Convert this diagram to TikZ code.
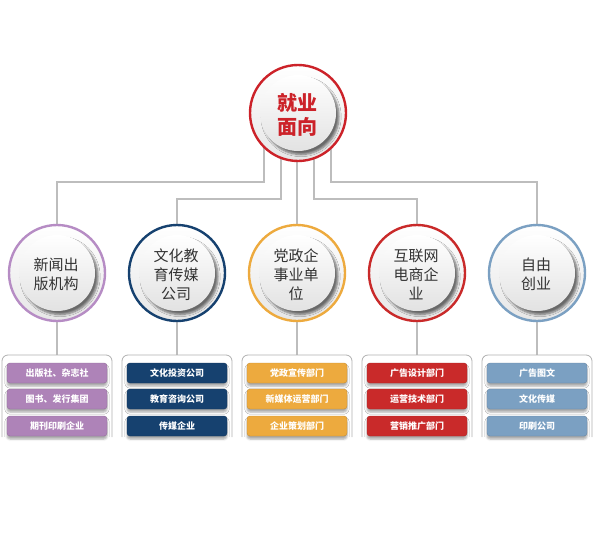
\documentclass[tikz,border=0pt]{standalone}
\usepackage{fontspec}
\setmainfont{Noto Sans CJK SC}
\usetikzlibrary{shadows,shadows.blur}
\definecolor{cpur}{HTML}{AE83B8}
\definecolor{cpurR}{HTML}{B68CC4}
\definecolor{cblu}{HTML}{16416F}
\definecolor{corg}{HTML}{EDAA3E}
\definecolor{cred}{HTML}{C92A2A}
\definecolor{clbl}{HTML}{7BA0C2}
\definecolor{ctop}{HTML}{CC2229}
\definecolor{linegray}{HTML}{BDBDBD}
\definecolor{framegray}{HTML}{B0B0B0}
\definecolor{ringgray}{HTML}{E6E6E6}
\definecolor{discgray}{HTML}{E2E2E2}
\definecolor{textgray}{HTML}{333333}
\begin{document}
\begin{tikzpicture}[x=1pt,y=-1pt,
 conn/.style={draw=linegray,line width=1.2pt},
 ring/.style={circle,minimum size=96pt,inner sep=0pt,draw=#1,line width=2.4pt,top color=white,bottom color=ringgray},
 disc/.style={circle,minimum size=76pt,inner sep=0pt,top color=white,bottom color=discgray,
   blur shadow={shadow xshift=3pt,shadow yshift=-3.5pt,shadow opacity=55,shadow blur steps=6}},
 ctext/.style={font=\fontsize{15}{19}\selectfont,text=textgray,align=center,inner sep=0pt},
 ttext/.style={font=\fontsize{20}{24}\selectfont\bfseries,text=ctop,align=center,inner sep=0pt},
 btn/.style={rectangle,rounded corners=3pt,minimum width=100pt,minimum height=20pt,inner sep=0pt,
   fill=#1,draw=#1!85!black,line width=0.4pt,text=white,font=\fontsize{9}{10}\selectfont\bfseries,
   blur shadow={shadow xshift=0pt,shadow yshift=-3pt,shadow opacity=35,shadow blur steps=5}},
 frm/.style={draw=framegray,line width=0.8pt,rounded corners=6pt}
]
\useasboundingbox (0,0) rectangle (596,551);
% anchor coordinates
\coordinate (t) at (298,113);
\foreach \i/\x in {1/57,2/177,3/297,4/417,5/537}{
  \coordinate (p\i) at (\x,273);
  \coordinate (f\i) at (\x,355);
}
% connectors
\draw[conn] ([xshift=-34pt]t) -- ++(0,69) -| (p1);
\draw[conn] ([xshift=-17pt]t) -- ++(0,86) -| (p2);
\draw[conn] ([xshift=-1pt]t) -- (p3);
\draw[conn] ([xshift=16pt]t) -- ++(0,86) -| (p4);
\draw[conn] ([xshift=33pt]t) -- ++(0,69) -| (p5);
\foreach \i in {1,...,5}{\draw[conn] (p\i) -- (f\i);}
% frames
\foreach \i in {1,...,5}{
  \fill[white] ([shift={(-55,0)}]f\i) rectangle ([shift={(55,82)}]f\i);
  \draw[frm] ([shift={(-55,82)}]f\i) |- (f\i) -| ([shift={(55,82)}]f\i);
}
% top circle
\node[ring=ctop] (top) at (t) {};
\node[disc] (topd) at (t) {};
\node[ttext] (topt) at (297,115) {就业\\面向};
% lower circles
\node[ring=cpurR] (c1) at (p1) {};
\node[disc] (d1) at (p1) {};
\node[ctext] (t1) at (56,274) {新闻出\\版机构};
\node[ring=cblu] (c2) at (p2) {};
\node[disc] (d2) at (p2) {};
\node[ctext] (t2) at (176,275) {文化教\\育传媒\\公司};
\node[ring=corg] (c3) at (p3) {};
\node[disc] (d3) at (p3) {};
\node[ctext] (t3) at (296,275) {党政企\\事业单\\位};
\node[ring=cred] (c4) at (p4) {};
\node[disc] (d4) at (p4) {};
\node[ctext] (t4) at (416,275) {互联网\\电商企\\业};
\node[ring=clbl] (c5) at (p5) {};
\node[disc] (d5) at (p5) {};
\node[ctext] (t5) at (536,274) {自由\\创业};
% buttons
\node[btn=cpur] (b11) at (57,373) {出版社、杂志社};
\node[btn=cpur] (b12) at (57,399) {图书、发行集团};
\node[btn=cpur] (b13) at (57,426) {期刊印刷企业};
\node[btn=cblu] (b21) at (177,373) {文化投资公司};
\node[btn=cblu] (b22) at (177,399) {教育咨询公司};
\node[btn=cblu] (b23) at (177,426) {传媒企业};
\node[btn=corg] (b31) at (297,373) {党政宣传部门};
\node[btn=corg] (b32) at (297,399) {新媒体运营部门};
\node[btn=corg] (b33) at (297,426) {企业策划部门};
\node[btn=cred] (b41) at (417,373) {广告设计部门};
\node[btn=cred] (b42) at (417,399) {运营技术部门};
\node[btn=cred] (b43) at (417,426) {营销推广部门};
\node[btn=clbl] (b51) at (537,373) {广告图文};
\node[btn=clbl] (b52) at (537,399) {文化传媒};
\node[btn=clbl] (b53) at (537,426) {印刷公司};
\end{tikzpicture}
\end{document}
